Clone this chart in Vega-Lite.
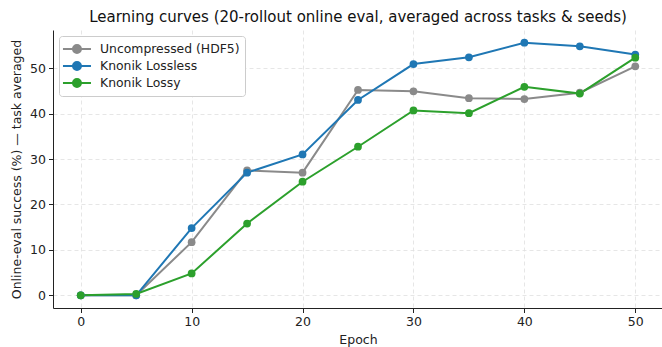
{
  "$schema": "https://vega.github.io/schema/vega-lite/v6.json",
  "width": 610,
  "height": 278,
  "autosize": "none",
  "padding": {"left": 53, "top": 30, "right": 0, "bottom": 39},
  "background": "white",
  "config": {
    "font": "DejaVu Sans",
    "view": {"stroke": null},
    "axis": {
      "labelFont": "DejaVu Sans",
      "titleFont": "DejaVu Sans",
      "labelFontSize": 12.5,
      "titleFontSize": 12.5,
      "titleFontWeight": "normal",
      "labelColor": "#222",
      "titleColor": "#222",
      "domainColor": "#222",
      "tickColor": "#222",
      "tickSize": 4.5,
      "labelPadding": 3,
      "gridColor": "#e0e0e0",
      "gridDash": [4, 3],
      "gridWidth": 0.8
    }
  },
  "title": {
    "text": "Learning curves (20-rollout online eval, averaged across tasks & seeds)",
    "fontSize": 15,
    "fontWeight": "normal",
    "font": "DejaVu Sans",
    "color": "#111",
    "anchor": "middle",
    "offset": 5
  },
  "data": {
    "values": [
      {"epoch": 0, "series": "Uncompressed (HDF5)", "value": 0},
      {"epoch": 5, "series": "Uncompressed (HDF5)", "value": 0},
      {"epoch": 10, "series": "Uncompressed (HDF5)", "value": 11.7},
      {"epoch": 15, "series": "Uncompressed (HDF5)", "value": 27.5},
      {"epoch": 20, "series": "Uncompressed (HDF5)", "value": 27.0},
      {"epoch": 25, "series": "Uncompressed (HDF5)", "value": 45.2},
      {"epoch": 30, "series": "Uncompressed (HDF5)", "value": 44.9},
      {"epoch": 35, "series": "Uncompressed (HDF5)", "value": 43.4},
      {"epoch": 40, "series": "Uncompressed (HDF5)", "value": 43.2},
      {"epoch": 45, "series": "Uncompressed (HDF5)", "value": 44.6},
      {"epoch": 50, "series": "Uncompressed (HDF5)", "value": 50.4},
      {"epoch": 0, "series": "Knonik Lossless", "value": 0},
      {"epoch": 5, "series": "Knonik Lossless", "value": 0},
      {"epoch": 10, "series": "Knonik Lossless", "value": 14.8},
      {"epoch": 15, "series": "Knonik Lossless", "value": 27.0},
      {"epoch": 20, "series": "Knonik Lossless", "value": 31.0},
      {"epoch": 25, "series": "Knonik Lossless", "value": 43.0},
      {"epoch": 30, "series": "Knonik Lossless", "value": 50.9},
      {"epoch": 35, "series": "Knonik Lossless", "value": 52.4},
      {"epoch": 40, "series": "Knonik Lossless", "value": 55.6},
      {"epoch": 45, "series": "Knonik Lossless", "value": 54.8},
      {"epoch": 50, "series": "Knonik Lossless", "value": 53.0},
      {"epoch": 0, "series": "Knonik Lossy", "value": 0},
      {"epoch": 5, "series": "Knonik Lossy", "value": 0.3},
      {"epoch": 10, "series": "Knonik Lossy", "value": 4.8},
      {"epoch": 15, "series": "Knonik Lossy", "value": 15.8},
      {"epoch": 20, "series": "Knonik Lossy", "value": 25.0},
      {"epoch": 25, "series": "Knonik Lossy", "value": 32.7},
      {"epoch": 30, "series": "Knonik Lossy", "value": 40.7},
      {"epoch": 35, "series": "Knonik Lossy", "value": 40.1},
      {"epoch": 40, "series": "Knonik Lossy", "value": 45.9},
      {"epoch": 45, "series": "Knonik Lossy", "value": 44.4},
      {"epoch": 50, "series": "Knonik Lossy", "value": 52.3}
    ]
  },
  "encoding": {
    "x": {
      "field": "epoch",
      "type": "quantitative",
      "title": "Epoch",
      "scale": {"domain": [-2.5, 52.5], "nice": false, "zero": false},
      "axis": {"values": [0, 10, 20, 30, 40, 50], "titlePadding": 5}
    },
    "y": {
      "field": "value",
      "type": "quantitative",
      "title": "Online-eval success (%) — task averaged",
      "scale": {"domain": [-2.8, 58.4], "nice": false, "zero": false},
      "axis": {"values": [0, 10, 20, 30, 40, 50], "titlePadding": 6}
    },
    "color": {
      "field": "series",
      "type": "nominal",
      "sort": ["Uncompressed (HDF5)", "Knonik Lossless", "Knonik Lossy"],
      "scale": {
        "domain": ["Uncompressed (HDF5)", "Knonik Lossless", "Knonik Lossy"],
        "range": ["#8a8a8a", "#1f77b4", "#2ca02c"]
      },
      "legend": {
        "title": null,
        "orient": "none",
        "legendX": 6,
        "legendY": 6,
        "symbolType": "M-1.29,0L2.71,0M0.14,0A0.57,0.57,0,1,0,1.28,0A0.57,0.57,0,1,0,0.14,0Z",
        "symbolSize": 196,
        "symbolStrokeWidth": 2,
        "labelFontSize": 12.4,
        "labelFont": "DejaVu Sans",
        "labelColor": "#222",
        "labelOffset": 20,
        "rowPadding": 1,
        "padding": 5,
        "fillColor": "white",
        "strokeColor": "#cccccc",
        "cornerRadius": 3,
        "encode": {
          "symbols": {
            "update": {
              "fill": {"scale": "color", "field": "value"},
              "stroke": {"scale": "color", "field": "value"},
              "strokeWidth": {"value": 2},
              "opacity": {"value": 1}
            }
          }
        }
      }
    }
  },
  "layer": [
    {"mark": {"type": "line", "strokeWidth": 2}},
    {"mark": {"type": "point", "filled": true, "size": 60, "opacity": 1}}
  ]
}
